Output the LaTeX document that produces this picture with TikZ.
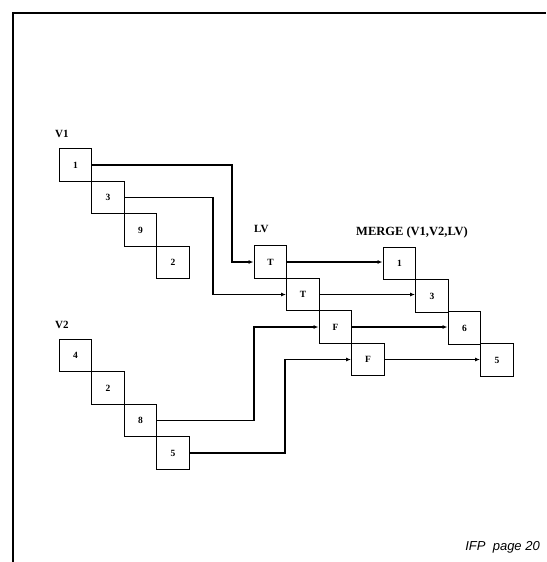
\documentclass[tikz,border=0pt]{standalone}
\usepackage{fontspec}
\setmainfont{Liberation Serif}
\newfontfamily\ifpfont{Liberation Sans}
\usetikzlibrary{arrows.meta}
\begin{document}
\begin{tikzpicture}[x=1pt,y=-1pt,
  cell/.style={draw,line width=1.4pt,minimum size=32.5pt,inner sep=0pt,
    font=\fontsize{9.5}{10}\selectfont\bfseries},
  lab/.style={font=\fontsize{11}{12}\selectfont\bfseries,inner sep=0pt},
  wire/.style={line width=1.2pt},
  arr/.style={wire,-{Latex[length=5pt,width=4pt]}}]
\useasboundingbox (0,0) rectangle (546,562);
% frame
\draw[line width=1.8pt] (13,562) -- (13,13) -- (546,13);
% V1
\node[lab,anchor=west] (lv1lab) at (55,134) {V1};
\node[cell] (a1) at (75.5,165) {1};
\node[cell] (a2) at (108,197.5) {3};
\node[cell] (a3) at (140.5,230) {9};
\node[cell] (a4) at (173,262.5) {2};
% V2
\node[lab,anchor=west] (lv2lab) at (55,325) {V2};
\node[cell] (b1) at (75.5,355.5) {4};
\node[cell] (b2) at (108,388) {2};
\node[cell] (b3) at (140.5,420.5) {8};
\node[cell] (b4) at (173,453) {5};
% LV
\node[lab,anchor=west] (lvlab) at (254,229) {LV};
\node[cell] (c1) at (270.5,262) {T};
\node[cell] (c2) at (303,294.5) {T};
\node[cell] (c3) at (335.5,327) {F};
\node[cell] (c4) at (368,359.5) {F};
% MERGE
\node[lab,anchor=west,font=\fontsize{12.5}{14}\selectfont\bfseries] (mlab) at (356,232) {MERGE (V1,V2,LV)};
\node[cell] (d1) at (399.5,263.5) {1};
\node[cell] (d2) at (432,296) {3};
\node[cell] (d3) at (464.5,328) {6};
\node[cell] (d4) at (497,360) {5};
% bends
\coordinate (k1) at (232,262);
\coordinate (k2) at (213,294.5);
\coordinate (k3) at (254,327);
\coordinate (k4) at (285,359.5);
% V1/V2 -> LV
\draw[arr] (a1.east) -| (k1) -- (c1.west);
\draw[arr] (a2.east) -| (k2) -- (c2.west);
\draw[arr] (b3.east) -| (k3) -- (c3.west);
\draw[arr] (b4.east) -| (k4) -- (c4.west);
% LV -> MERGE
\draw[arr] (c1.east) -- (c1.east -| d1.west);
\draw[arr] (c2.east) -- (c2.east -| d2.west);
\draw[arr] (c3.east) -- (c3.east -| d3.west);
\draw[arr] (c4.east) -- (c4.east -| d4.west);
% caption
\node[font=\ifpfont\itshape\fontsize{13}{15}\selectfont,anchor=base east,inner sep=0pt] (cap) at (540,550) {IFP\ \ page 20};
\end{tikzpicture}
\end{document}
